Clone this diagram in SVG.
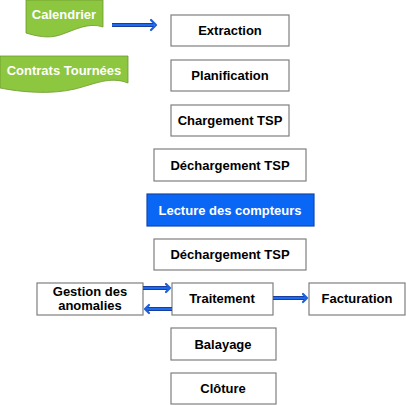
<svg xmlns="http://www.w3.org/2000/svg" width="406" height="405" viewBox="0 0 406 405">
<style>
.box{fill:#fff;stroke:#7f7f7f;stroke-width:1.2}
.t{font-family:"Liberation Sans",Arial,sans-serif;font-weight:bold;font-size:13px;text-anchor:middle;fill:#000}
.w{fill:#fff}
.doc{fill:#8dc63f;stroke:#6d9a30;stroke-width:0.8}
.lo{fill:none;stroke:#1a3e9e;stroke-width:4}
.li{fill:none;stroke:#1f6bf0;stroke-width:2}
.hd{fill:none;stroke:#1f5fd8;stroke-width:2.2;stroke-linecap:round;stroke-linejoin:round}
</style>
<rect width="406" height="405" fill="#fff"/>
<g id="calendrier">
<path class="doc" d="M26,0 H103 V27 C88,22 75,30 60,35 C48,39 36,36 26,33 Z"/>
<text class="t w" x="64" y="19">Calendrier</text>
</g>
<g id="contrats">
<path class="doc" d="M0,56 H128 V83 C110,76 95,84 75,89 C50,95 20,92 0,88 Z"/>
<text class="t w" x="64" y="75">Contrats Tournées</text>
</g>
<g id="extraction"><rect class="box" x="171" y="15" width="118" height="31"/><text class="t" x="230" y="35">Extraction</text></g>
<g id="planification"><rect class="box" x="171" y="60" width="118" height="31"/><text class="t" x="230" y="80">Planification</text></g>
<g id="chargement"><rect class="box" x="171" y="105" width="118" height="31"/><text class="t" x="230" y="125">Chargement TSP</text></g>
<g id="dechargement1"><rect class="box" x="154" y="149" width="152" height="32"/><text class="t" x="230" y="170">Déchargement TSP</text></g>
<g id="lecture"><rect x="147" y="194" width="167" height="32" fill="#0a66f5" stroke="#1546a8" stroke-width="1.2"/><text class="t w" x="230" y="215">Lecture des compteurs</text></g>
<g id="dechargement2"><rect class="box" x="154" y="239" width="152" height="31"/><text class="t" x="230" y="259">Déchargement TSP</text></g>
<g id="gestion"><rect class="box" x="37" y="283" width="106" height="32"/><text class="t" x="90" y="296">Gestion des</text><text class="t" x="90" y="310">anomalies</text></g>
<g id="traitement"><rect class="box" x="172" y="283" width="101" height="32"/><text class="t" x="222" y="303">Traitement</text></g>
<g id="facturation"><rect class="box" x="309" y="283" width="96" height="32"/><text class="t" x="357" y="303">Facturation</text></g>
<g id="balayage"><rect class="box" x="171" y="328" width="105" height="32"/><text class="t" x="223" y="349">Balayage</text></g>
<g id="cloture"><rect class="box" x="171" y="373" width="105" height="31"/><text class="t" x="223" y="393">Clôture</text></g>
<g id="connectors">
<path class="lo" d="M112,25 H154"/><path class="li" d="M112,25 H154"/><path class="hd" d="M151,20 L156,25 L151,30"/>
<path class="lo" d="M143,288 H169"/><path class="li" d="M143,288 H169"/><path class="hd" d="M166,284 L170,288 L166,292"/>
<path class="lo" d="M172,309 H146"/><path class="li" d="M172,309 H146"/><path class="hd" d="M149,305 L145,309 L149,313"/>
<path class="lo" d="M273,298 H306"/><path class="li" d="M273,298 H306"/><path class="hd" d="M303,294 L307,298 L303,302"/>
</g>
</svg>
